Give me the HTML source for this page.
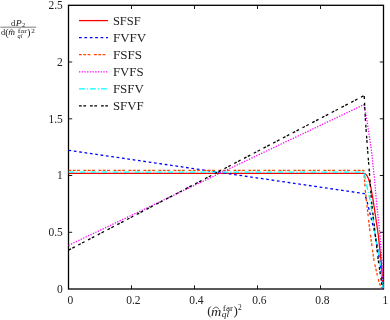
<!DOCTYPE html>
<html><head><meta charset="utf-8">
<style>
html,body{margin:0;padding:0;background:#fff;}
body{width:390px;height:320px;overflow:hidden;position:relative;font-family:"Liberation Serif",serif;}
svg{position:absolute;left:0;top:0;will-change:transform;}
text{font-family:"Liberation Serif",serif;fill:#222;}
.t{font-size:11.5px;}
.l{font-size:12.2px;}
</style></head><body>
<svg width="390" height="320" viewBox="0 0 390 320">
<rect width="390" height="320" fill="#fff"/>
<!-- frame -->
<rect x="68.5" y="5.3" width="315" height="283.7" fill="none" stroke="#000" stroke-width="1.3"/>
<g stroke="#000" stroke-width="0.9" fill="none">
<path d="M131.5,289v-3.7M194.5,289v-3.7M257.5,289v-3.7M320.5,289v-3.7"/>
<path d="M131.5,5.3v3.7M194.5,5.3v3.7M257.5,5.3v3.7M320.5,5.3v3.7"/>
<path d="M68.5,232.3h3.7M68.5,175.5h3.7M68.5,118.8h3.7M68.5,62h3.7"/>
<path d="M383.5,232.3h-3.7M383.5,175.5h-3.7M383.5,118.8h-3.7M383.5,62h-3.7"/>
</g>
<!-- curves -->
<g fill="none" stroke-width="1.3" stroke-linejoin="round">
<path stroke="#ff0000" d="M68.5,173.4 L364.1,173.4 C366,173.6 368,176.5 369.5,182 L371,188 L373.1,200 L378.3,235 L381.2,262 L382.8,282 L383.4,289"/>
<path stroke="#0000ff" stroke-dasharray="2.7 2.7" d="M68.5,150.3 L364.4,193.6 L366.7,200 L375.3,235 L380,262 L382.3,282 L383,289"/>
<path stroke="#ff4500" stroke-dasharray="2.8 1.5 2.8 1.5 2.8 3.6" d="M68.5,170.4 L363.8,170.4 L365.2,189 L366.3,200 L370,232 L374.2,262 L379,282 L381.8,289"/>
<path stroke="#ff00ff" stroke-dasharray="1.3 1.4" d="M68.5,245.3 L363.8,104.7 L366.9,120 L371.4,150 L374.6,180 L376.3,200 L380,235 L382,262 L383,282 L383.4,289"/>
<path stroke="#00ffff" stroke-dasharray="5.8 1.9 1.2 2.1" d="M68.5,172.1 L364.1,172.1 L367.5,189 L370.1,200 L375.3,235 L379.8,262 L382.2,282 L383,289"/>
<path stroke="#000000" stroke-dasharray="2.8 1.5 2.8 3.9" d="M68.5,250.1 L364.2,95.5 L365.4,120 L367.6,150 L370,180 L371.4,200 L375.3,235 L378.5,262 L381.5,282 L382.6,289"/>
</g>
<!-- legend -->
<g fill="none" stroke-width="1.3">
<path stroke="#ff0000" d="M79,20.6H108"/>
<path stroke="#0000ff" stroke-dasharray="2.7 2.7" d="M79,37.6H108"/>
<path stroke="#ff4500" stroke-dasharray="2.8 1.5 2.8 1.5 2.8 3.6" d="M79,54.7H108"/>
<path stroke="#ff00ff" stroke-dasharray="1.3 1.4" d="M79,71.8H108"/>
<path stroke="#00ffff" stroke-dasharray="5.8 1.9 1.2 2.1" d="M79,88.8H108"/>
<path stroke="#000000" stroke-dasharray="2.8 1.5 2.8 3.9" d="M79,105.9H108"/>
</g>
<g class="l">
<text x="112.9" y="24.7" textLength="27.8" lengthAdjust="spacingAndGlyphs">SFSF</text>
<text x="112.9" y="41.7" textLength="33.3" lengthAdjust="spacingAndGlyphs">FVFV</text>
<text x="112.9" y="58.7" textLength="29" lengthAdjust="spacingAndGlyphs">FSFS</text>
<text x="112.9" y="75.9" textLength="30.7" lengthAdjust="spacingAndGlyphs">FVFS</text>
<text x="112.9" y="92.8" textLength="31" lengthAdjust="spacingAndGlyphs">FSFV</text>
<text x="112.9" y="110" textLength="30.7" lengthAdjust="spacingAndGlyphs">SFVF</text>
</g>
<!-- tick labels -->
<g class="t" text-anchor="end">
<text x="62.8" y="9.2">2.5</text>
<text x="62.8" y="65.9">2</text>
<text x="62.8" y="122.7">1.5</text>
<text x="62.8" y="179.4">1</text>
<text x="62.8" y="236.2">0.5</text>
<text x="62.8" y="293">0</text>
</g>
<g class="t" text-anchor="middle">
<text x="70.3" y="304">0</text>
<text x="133.4" y="304">0.2</text>
<text x="196.4" y="304">0.4</text>
<text x="259.4" y="304">0.6</text>
<text x="322.4" y="304">0.8</text>
<text x="385.4" y="304">1</text>
</g>
<!-- x label -->
<g>
<text x="207.2" y="315.2" style="font-size:13px">(</text>
<text x="210.9" y="315.5" style="font-size:12.2px;font-style:italic" textLength="10.3" lengthAdjust="spacingAndGlyphs">m</text>
<path d="M212.8,308.9 L216,306.9 L219.2,308.9" fill="none" stroke="#222" stroke-width="0.7"/>
<text x="222.8" y="310.8" style="font-size:7.6px" textLength="10.3" lengthAdjust="spacingAndGlyphs">far</text>
<text x="221.8" y="317.3" style="font-size:8px;font-style:italic" textLength="7.4" lengthAdjust="spacingAndGlyphs">ql</text>
<text x="233.4" y="315.2" style="font-size:13px">)</text>
<text x="238" y="309.7" style="font-size:7.4px">2</text>
</g>
<!-- y label -->
<g>
<text x="11.1" y="25.5" style="font-size:8.4px" textLength="4.3" lengthAdjust="spacingAndGlyphs">d</text>
<text x="15.8" y="25.5" style="font-size:8.4px;font-style:italic" textLength="6" lengthAdjust="spacingAndGlyphs">P</text>
<text x="21.9" y="26.6" style="font-size:5.8px" textLength="3.2" lengthAdjust="spacingAndGlyphs">2</text>
<path d="M0.4,27.2H36.1" stroke="#222" stroke-width="0.6"/>
<text x="1" y="35.3" style="font-size:8.8px" textLength="4.2" lengthAdjust="spacingAndGlyphs">d</text>
<text x="5.2" y="36" style="font-size:10.4px">(</text>
<text x="8.2" y="35.3" style="font-size:8.8px;font-style:italic" textLength="6.8" lengthAdjust="spacingAndGlyphs">m</text>
<path d="M9.6,30.7 L11.5,29.5 L13.4,30.7" fill="none" stroke="#222" stroke-width="0.6"/>
<text x="17.8" y="32.7" style="font-size:6.6px" textLength="9.1" lengthAdjust="spacingAndGlyphs">far</text>
<text x="17.6" y="37.8" style="font-size:7px;font-style:italic" textLength="4.8" lengthAdjust="spacingAndGlyphs">ql</text>
<text x="27" y="36" style="font-size:10.4px">)</text>
<text x="31.2" y="32.5" style="font-size:6px" textLength="3.6" lengthAdjust="spacingAndGlyphs">2</text>
</g>
</svg>
</body></html>
